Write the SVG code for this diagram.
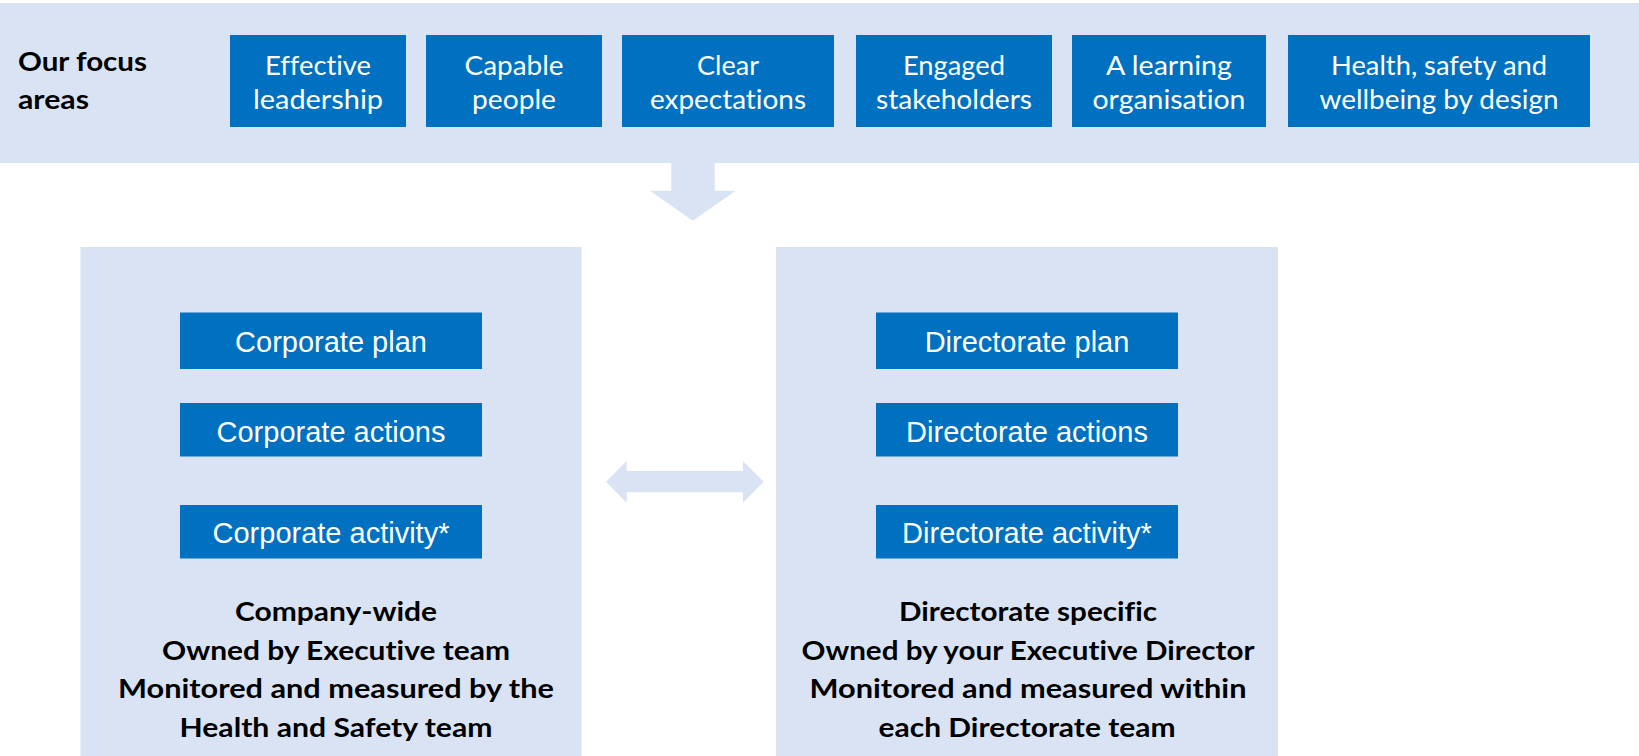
<svg xmlns="http://www.w3.org/2000/svg" width="1639" height="756" viewBox="0 0 1639 756">
  <style>
    .band { fill: #DAE3F3; }
    .box { fill: #0070C0; }
    .arrow { fill: #DAE3F3; }
    text { font-variant-ligatures: none; }
    .focus { font-family: Lato, "Liberation Sans", sans-serif; font-size: 26.5px; fill: #FFFFFF; text-anchor: middle; }
    .head { font-family: Lato, "Liberation Sans", sans-serif; font-size: 26.5px; font-weight: bold; fill: #000000; }
    .inner { font-family: "Liberation Sans", Arial, sans-serif; font-size: 29px; fill: #FFFFFF; text-anchor: middle; }
    .note { font-family: Lato, "Liberation Sans", sans-serif; font-size: 26.5px; font-weight: bold; fill: #000000; text-anchor: middle; }
  </style>
  <rect width="1639" height="756" fill="#FFFFFF"/>

  <g id="focus-areas">
    <rect class="band" x="0" y="3" width="1639" height="160"/>
    <text class="head" x="18" y="70.5" textLength="129" lengthAdjust="spacingAndGlyphs">Our focus</text>
    <text class="head" x="18" y="108.5" textLength="71" lengthAdjust="spacingAndGlyphs">areas</text>
  </g>

  <g id="effective-leadership">
    <rect class="box" x="230" y="35" width="176" height="92"/>
    <text class="focus" x="318" y="74.5" textLength="106" lengthAdjust="spacingAndGlyphs">Effective</text>
    <text class="focus" x="318" y="108.5" textLength="130" lengthAdjust="spacingAndGlyphs">leadership</text>
  </g>
  <g id="capable-people">
    <rect class="box" x="426" y="35" width="176" height="92"/>
    <text class="focus" x="514" y="74.5" textLength="99" lengthAdjust="spacingAndGlyphs">Capable</text>
    <text class="focus" x="514" y="108.5" textLength="84" lengthAdjust="spacingAndGlyphs">people</text>
  </g>
  <g id="clear-expectations">
    <rect class="box" x="622" y="35" width="212" height="92"/>
    <text class="focus" x="728" y="74.5" textLength="62" lengthAdjust="spacingAndGlyphs">Clear</text>
    <text class="focus" x="728" y="108.5" textLength="156" lengthAdjust="spacingAndGlyphs">expectations</text>
  </g>
  <g id="engaged-stakeholders">
    <rect class="box" x="856" y="35" width="196" height="92"/>
    <text class="focus" x="954" y="74.5" textLength="102" lengthAdjust="spacingAndGlyphs">Engaged</text>
    <text class="focus" x="954" y="108.5" textLength="156" lengthAdjust="spacingAndGlyphs">stakeholders</text>
  </g>
  <g id="learning-organisation">
    <rect class="box" x="1072" y="35" width="194" height="92"/>
    <text class="focus" x="1169" y="74.5" textLength="126" lengthAdjust="spacingAndGlyphs">A learning</text>
    <text class="focus" x="1169" y="108.5" textLength="153" lengthAdjust="spacingAndGlyphs">organisation</text>
  </g>
  <g id="health-safety-wellbeing">
    <rect class="box" x="1288" y="35" width="302" height="92"/>
    <text class="focus" x="1439" y="74.5" textLength="216" lengthAdjust="spacingAndGlyphs">Health, safety and</text>
    <text class="focus" x="1439" y="108.5" textLength="239" lengthAdjust="spacingAndGlyphs">wellbeing by design</text>
  </g>

  <g id="corporate-panel">
    <rect class="band" x="80.5" y="247" width="501" height="509"/>
    <g id="corporate-plan">
      <rect class="box" x="180" y="312.5" width="302" height="56.5"/>
      <text class="inner" x="331" y="351.5">Corporate plan</text>
    </g>
    <g id="corporate-actions">
      <rect class="box" x="180" y="403" width="302" height="53.5"/>
      <text class="inner" x="331" y="441.5">Corporate actions</text>
    </g>
    <g id="corporate-activity">
      <rect class="box" x="180" y="505" width="302" height="53.5"/>
      <text class="inner" x="331" y="543">Corporate activity*</text>
    </g>
    <text class="note" x="336" y="621" textLength="202" lengthAdjust="spacingAndGlyphs">Company-wide</text>
    <text class="note" x="336" y="659.7" textLength="348" lengthAdjust="spacingAndGlyphs">Owned by Executive team</text>
    <text class="note" x="336" y="698.3" textLength="436" lengthAdjust="spacingAndGlyphs">Monitored and measured by the</text>
    <text class="note" x="336" y="737" textLength="313" lengthAdjust="spacingAndGlyphs">Health and Safety team</text>
  </g>

  <g id="directorate-panel">
    <rect class="band" x="776" y="247" width="502" height="509"/>
    <g id="directorate-plan">
      <rect class="box" x="876" y="312.5" width="302" height="56.5"/>
      <text class="inner" x="1027" y="351.5">Directorate plan</text>
    </g>
    <g id="directorate-actions">
      <rect class="box" x="876" y="403" width="302" height="53.5"/>
      <text class="inner" x="1027" y="441.5">Directorate actions</text>
    </g>
    <g id="directorate-activity">
      <rect class="box" x="876" y="505" width="302" height="53.5"/>
      <text class="inner" x="1027" y="543">Directorate activity*</text>
    </g>
    <text class="note" x="1028" y="621" textLength="258" lengthAdjust="spacingAndGlyphs">Directorate specific</text>
    <text class="note" x="1028" y="659.7" textLength="453" lengthAdjust="spacingAndGlyphs">Owned by your Executive Director</text>
    <text class="note" x="1028" y="698.3" textLength="437" lengthAdjust="spacingAndGlyphs">Monitored and measured within</text>
    <text class="note" x="1027" y="737" textLength="297" lengthAdjust="spacingAndGlyphs">each Directorate team</text>
  </g>

  <g id="connectors">
    <polygon class="arrow" points="671.3,162 714.7,162 714.7,190.7 735.7,190.7 692.7,220.7 650,190.7 671.3,190.7"/>
    <polygon class="arrow" points="606,481.7 626.7,461 626.7,471 743,471 743,461 763.7,481.7 743,502.7 743,492.3 626.7,492.3 626.7,502.7"/>
  </g>
</svg>
